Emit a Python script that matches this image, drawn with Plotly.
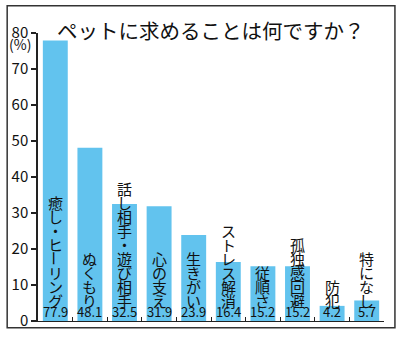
import plotly.graph_objects as go

# Survey: what people want from their pets (%)
categories = ["癒し・ヒーリング", "ぬくもり", "話し相手・遊び相手", "心の支え", "生きがい",
              "ストレス解消", "従順さ", "孤独感回避", "防犯", "特になし"]
values = [77.9, 48.1, 32.5, 31.9, 23.9, 16.4, 15.2, 15.2, 4.2, 5.7]
y_ticks = [0, 10, 20, 30, 40, 50, 60, 70, 80]
title_text = "ペットに求めることは何ですか？"

FONT = "Noto Sans CJK JP"
BAR_COLOR = "#62C3EE"

W, H = 400, 342
L, R, T, B = 36, 16, 33, 14
pw, ph = W - L - R, H - T - B

fig = go.Figure(go.Bar(
    x=categories, y=values,
    marker=dict(color=BAR_COLOR, line=dict(width=0)),
    hoverinfo="x+y",
))

annotations = []

# value labels sitting on the baseline
for cat, v in zip(categories, values):
    annotations.append(dict(
        x=cat, y=0, xref="x", yref="y", text=f"{v:.1f}", showarrow=False,
        yanchor="bottom", yshift=-2, font=dict(family=FONT, size=13, color="#111"),
    ))

# vertical (top-to-bottom) category labels, one glyph per annotation
pitch = 14.0
bottom_gap = 14
for cat in categories:
    chars = list(cat)
    n = len(chars)
    for i, ch in enumerate(chars):
        shift = bottom_gap + (n - 1 - i + 0.5) * pitch
        annotations.append(dict(
            x=cat, y=0, xref="x", yref="y", text=ch, showarrow=False,
            yanchor="middle", yshift=shift,
            textangle=90 if ch == "ー" else 0,
            font=dict(family=FONT, size=15, color="#111"),
        ))

def px_x(p):
    return (p - L) / pw

def px_y(p):
    return (H - B - p) / ph

# unit beneath the top tick label
annotations.append(dict(x=px_x(18), y=px_y(44), xref="paper", yref="paper",
                        text="(%)", showarrow=False,
                        xanchor="center", yanchor="middle",
                        font=dict(family=FONT, size=14, color="#111")))

# title
annotations.append(dict(x=px_x(210), y=px_y(30), xref="paper", yref="paper",
                        text=title_text, showarrow=False,
                        xanchor="center", yanchor="middle",
                        font=dict(family=FONT, size=20.5, color="#111")))

shapes = [
    # outer frame
    dict(type="rect", xref="paper", yref="paper",
         x0=px_x(5), x1=px_x(395), y0=px_y(335), y1=px_y(5),
         line=dict(color="#333", width=1.5), fillcolor="rgba(0,0,0,0)", layer="below"),
]

fig.update_layout(
    width=W, height=H,
    margin=dict(l=L, r=R, t=T, b=B),
    paper_bgcolor="white", plot_bgcolor="white",
    bargap=0.28,
    showlegend=False,
    annotations=annotations,
    shapes=shapes,
    xaxis=dict(type="category", range=[-0.5, len(categories) - 0.5],
               showline=True, linecolor="#222", linewidth=1,
               ticks="inside", tickson="boundaries", ticklen=4, tickcolor="#222",
               showticklabels=False, showgrid=False, zeroline=False),
    yaxis=dict(range=[0, 80], tickvals=y_ticks,
               showline=True, linecolor="#222", linewidth=1.5,
               ticks="outside", ticklen=5, tickwidth=1.5, tickcolor="#222",
               tickfont=dict(family=FONT, size=15, color="#111"),
               showgrid=False, zeroline=False),
)

fig.write_html("out.html")
